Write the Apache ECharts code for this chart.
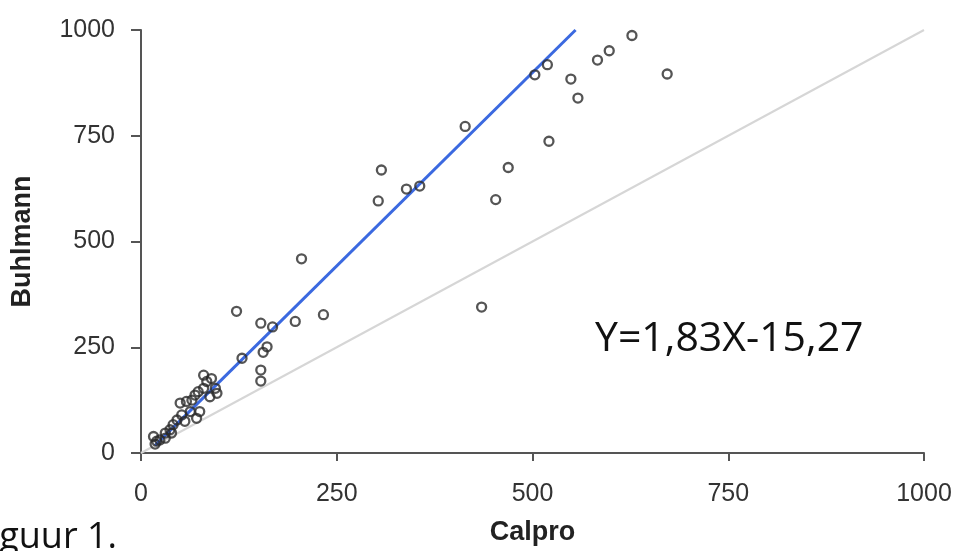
<!DOCTYPE html>
<html>
<head>
<meta charset="utf-8">
<script src="https://cdn.jsdelivr.net/npm/echarts@6/dist/echarts.min.js"></script>
<style>
    html, body { margin: 0; padding: 0; background: #fff; }
    #chart { width: 962px; height: 551px; }
</style>
</head>
<body>
<div id="chart"></div>
<script>
// Calpro (x) vs Buhlmann (y)
var calpro = [627, 598, 583, 549, 558, 672, 521, 519, 503, 414, 469, 453, 435,
    307, 303, 339, 356, 205, 233, 197, 122, 153, 168, 129, 161, 156, 153, 153,
    16, 24, 31, 39, 37, 41, 46, 52, 50, 58, 65, 69, 73, 80, 84, 80, 90, 95, 97,
    88, 71, 75, 63, 56, 20, 18, 31];
var buhlmann = [987, 951, 929, 884, 839, 896, 737, 918, 894, 772, 675, 599, 345,
    669, 596, 624, 631, 459, 327, 311, 335, 307, 298, 224, 251, 238, 196, 170,
    39, 31, 47, 47, 55, 67, 78, 90, 118, 122, 125, 137, 145, 153, 169, 184, 176, 153, 141,
    133, 82, 98, 98, 75, 28, 21, 35];

// fitted line Y=1,83X-15,27 (ends) and the identity line
var fitLine = [[18, 18], [555, 1000]];
var identityLine = [[0, 0], [1000, 1000]];
var axisTicks = [0, 250, 500, 750, 1000];

var points = [];
for (var i = 0; i < calpro.length; i++) {
    points.push([calpro[i], buhlmann[i]]);
}

var labelFont = "'Liberation Sans', Arial, sans-serif";
var axisColor = '#555';

var option = {
    animation: false,
    backgroundColor: '#fff',
    grid: {
        left: 141,
        right: 38,
        top: 30,
        bottom: 96
    },
    xAxis: {
        type: 'value',
        min: axisTicks[0],
        max: axisTicks[axisTicks.length - 1],
        interval: 250,
        name: 'Calpro',
        nameLocation: 'middle',
        nameGap: 66,
        nameTextStyle: { fontFamily: labelFont, fontWeight: 'bold', fontSize: 27, color: '#222' },
        axisLine: { show: true, onZero: false, lineStyle: { color: axisColor, width: 2 } },
        axisTick: { show: true, length: 8, lineStyle: { color: axisColor, width: 2 } },
        axisLabel: {
            margin: 29, fontFamily: labelFont, fontSize: 25, color: '#333',
            formatter: function (v) { return String(v); }
        },
        splitLine: { show: false }
    },
    yAxis: {
        type: 'value',
        position: 'left',
        min: axisTicks[0],
        max: axisTicks[axisTicks.length - 1],
        interval: 250,
        name: 'Buhlmann',
        nameLocation: 'middle',
        nameGap: 105,
        nameTextStyle: { fontFamily: labelFont, fontWeight: 'bold', fontSize: 27, color: '#222' },
        axisLine: { show: true, onZero: false, lineStyle: { color: axisColor, width: 2 } },
        axisTick: { show: true, length: 10, lineStyle: { color: axisColor, width: 2 } },
        axisLabel: {
            margin: 26, fontFamily: labelFont, fontSize: 25, color: '#333',
            formatter: function (v) { return String(v); }
        },
        splitLine: { show: false }
    },
    series: [
        {
            type: 'line',
            data: identityLine,
            symbol: 'none',
            lineStyle: { color: '#d6d6d6', width: 2 },
            z: 1
        },
        {
            type: 'line',
            data: fitLine,
            symbol: 'none',
            lineStyle: { color: '#3b69e0', width: 3 },
            z: 2
        },
        {
            type: 'scatter',
            data: points,
            symbol: 'circle',
            symbolSize: 9,
            itemStyle: {
                color: 'rgba(0,0,0,0)',
                borderColor: '#2b2b2b',
                borderWidth: 2.3
            },
            z: 3
        }
    ],
    graphic: [
        {
            type: 'text',
            left: 595,
            top: 319,
            style: {
                text: 'Y=1,83X-15,27',
                font: "41px 'Open Sans', sans-serif",
                fill: '#111'
            }
        },
        {
            type: 'text',
            right: 845,
            top: 520,
            style: {
                text: 'Figuur 1.',
                font: "36px 'Open Sans', sans-serif",
                fill: '#111'
            }
        }
    ]
};

var myChart = echarts.init(document.getElementById('chart'));
myChart.setOption(option);
</script>
</body>
</html>
